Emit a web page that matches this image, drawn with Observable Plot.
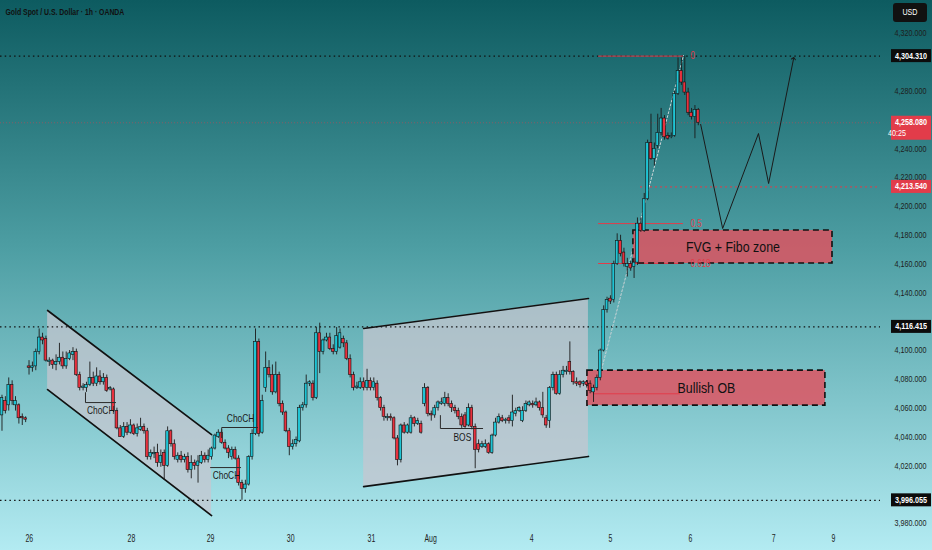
<!DOCTYPE html>
<html><head><meta charset="utf-8">
<script src="https://cdn.jsdelivr.net/npm/d3@7"></script>
<script src="https://cdn.jsdelivr.net/npm/@observablehq/plot@0.6"></script>
<style>
html,body{margin:0;padding:0;}
body{width:932px;height:550px;overflow:hidden;background:linear-gradient(to bottom,#0d5b60 0%,#4d9ea3 45%,#b3ebf2 100%);}
</style></head><body><div id="chart"></div>
<script>
const title = "Gold Spot / U.S. Dollar · 1h · OANDA";
const opens = [4055,4065,4062,4076,4062,4062,4054,4053,4089,4088,4089,4099,4109,4108,4092,4093,4090,4092,4095,4089,4094,4097,4099,4083,4074,4074,4076,4081,4077,4082,4078,4081,4073,4073,4058,4046,4040,4047,4043,4048,4042,4045,4047,4044,4026,4028,4029,4022,4029,4020,4044,4035,4024,4027,4024,4026,4017,4022,4020,4022,4027,4024,4026,4032,4040,4043,4036,4032,4026,4031,4025,4008,4004,4007,4026,4042,4106,4043,4074,4088,4083,4071,4083,4063,4057,4044,4033,4035,4037,4060,4062,4077,4077,4067,4112,4099,4107,4109,4101,4099,4102,4108,4105,4094,4083,4074,4074,4078,4074,4079,4074,4077,4067,4060,4053,4054,4053,4039,4024,4048,4043,4043,4053,4049,4049,4063,4074,4056,4055,4060,4063,4063,4067,4063,4060,4058,4054,4055,4048,4060,4047,4035,4033,4033,4035,4029,4041,4050,4053,4051,4053,4051,4056,4058,4051,4058,4062,4063,4062,4064,4060,4053,4051,4074,4083,4070,4083,4085,4092,4085,4078,4078,4077,4078,4077,4071,4074,4081,4100,4128,4136,4135,4160,4176,4168,4158,4160,4158,4161,4188,4183,4205,4244,4233,4242,4251,4261,4249,4248,4249,4278,4294,4286,4279,4265,4262,4267];
const highs = [4069,4068,4081,4079,4068,4063,4056,4054,4093,4092,4101,4115,4112,4110,4095,4094,4097,4105,4099,4099,4100,4102,4101,4085,4077,4078,4092,4085,4088,4086,4084,4083,4075,4074,4060,4048,4050,4050,4052,4049,4049,4053,4049,4046,4031,4033,4035,4031,4031,4047,4045,4038,4029,4030,4028,4029,4027,4024,4027,4030,4029,4031,4033,4042,4045,4045,4038,4034,4033,4033,4027,4010,4010,4027,4045,4115,4108,4069,4099,4093,4090,4092,4085,4065,4058,4046,4038,4040,4062,4064,4083,4079,4079,4116,4119,4108,4112,4112,4104,4116,4115,4110,4107,4097,4085,4078,4081,4081,4087,4081,4081,4079,4068,4062,4056,4056,4054,4041,4049,4050,4049,4055,4054,4053,4051,4077,4075,4058,4062,4065,4067,4071,4070,4065,4062,4060,4056,4057,4063,4062,4049,4038,4037,4038,4036,4042,4053,4056,4055,4053,4055,4069,4060,4061,4061,4065,4065,4065,4067,4065,4071,4055,4075,4085,4085,4086,4089,4089,4106,4086,4081,4079,4079,4079,4079,4076,4083,4101,4131,4137,4138,4162,4181,4180,4171,4164,4162,4164,4192,4192,4209,4246,4264,4244,4264,4268,4263,4251,4251,4280,4303,4303,4304.31,4282,4268,4270,4268];
const lows = [4044,4056,4058,4062,4058,4049,4048,4050,4083,4085,4086,4097,4104,4092,4089,4087,4086,4090,4087,4087,4093,4093,4082,4072,4072,4071,4075,4075,4075,4076,4076,4071,4072,4057,4045,4040,4039,4041,4042,4041,4040,4044,4042,4024,4024,4025,4019,4019,4010,4019,4033,4024,4022,4022,4022,4015,4011,4017,4008,4021,4022,4022,4024,4031,4039,4035,4031,4025,4024,4024,4006,3996.1,4001,4006,4024,4041,4040,4042,4071,4081,4069,4070,4061,4055,4043,4027,4031,4033,4036,4058,4060,4075,4065,4066,4084,4097,4106,4100,4097,4097,4101,4102,4093,4081,4072,4073,4073,4072,4072,4072,4072,4065,4058,4051,4051,4051,4038,4020,4022,4042,4042,4042,4047,4048,4042,4061,4054,4051,4053,4058,4062,4061,4061,4057,4056,4052,4046,4046,4047,4045,4018,4029,4032,4032,4028,4028,4040,4049,4050,4049,4049,4047,4054,4057,4050,4057,4061,4060,4061,4058,4053,4046,4046,4072,4069,4069,4081,4083,4083,4076,4075,4074,4075,4074,4070,4064,4072,4079,4099,4126,4132,4133,4159,4165,4158,4151,4155,4150,4159,4182,4182,4204,4232,4228,4240,4249,4246,4246,4247,4248,4277,4284,4277,4263,4260,4247,4256];
const closes = [4067,4058,4076,4065,4065,4053,4053,4052,4088,4089,4099,4109,4107,4093,4093,4090,4092,4095,4089,4094,4098,4099,4083,4074,4075,4076,4081,4077,4082,4078,4081,4072,4074,4058,4046,4040,4047,4043,4048,4042,4046,4047,4044,4026,4029,4029,4022,4027,4020,4044,4035,4026,4027,4024,4026,4017,4022,4020,4023,4027,4024,4027,4032,4041,4043,4036,4032,4029,4031,4025,4008,4004,4007,4026,4042,4106,4042,4065,4088,4083,4071,4083,4063,4057,4044,4033,4035,4038,4060,4062,4077,4078,4067,4112,4099,4107,4109,4101,4099,4110,4112,4105,4094,4083,4074,4075,4078,4074,4079,4074,4078,4067,4060,4054,4054,4053,4039,4024,4048,4043,4048,4053,4049,4051,4043,4074,4056,4055,4060,4064,4064,4067,4063,4060,4058,4054,4048,4047,4060,4047,4031,4031,4035,4035,4029,4041,4050,4054,4051,4052,4051,4057,4058,4060,4058,4063,4064,4062,4064,4060,4055,4048,4074,4083,4070,4083,4086,4086,4085,4078,4077,4076,4078,4076,4072,4074,4081,4100,4128,4135,4134,4160,4176,4167,4160,4160,4157,4161,4188,4183,4205,4244,4233,4240,4251,4261,4248,4247,4249,4278,4294,4286,4279,4265,4262,4267,4258.08];

const dayTicks = [8.1, 38.3, 61.7, 85.4, 109.3, 126.8, 156.7, 180, 203.7, 228.3, 246];
const dayLabels = ["26","28","29","30","31","Aug","4","5","6","7","9"];
const priceTicks = d3.range(3980, 4321, 20);

const keyLevels = [4304.31, 4116.415, 3996.055];
const currentPrice = 4258.08;
const countdown = "40:25";
const targetLevel = 4213.54;
const targetStart = 188.9;

const descChannel = [{x: 13.5, lo: 4072.9, hi: 4127.8}, {x: 62, lo: 3985.5, hi: 4041.7}];
const riseChannel = [{x: 107, lo: 4005.6, hi: 4115.3}, {x: 173.5, lo: 4026.5, hi: 4136.1}];

const fibRatios = ["0", "0.5", "0.618"];
const fibPrices = [4304.31, 4188.1, 4160.4];
const fibStart = 176.5, fibEnd = 201.6, fibLabelX = 203.7;
const fibSwing = [{x: 175.6, y: 4071}, {x: 201.6, y: 4304.7}];
const obLine = {x1: 175, x2: 200.7, y: 4070};

const zoneNames = ["FVG + Fibo zone", "Bullish OB"];
const zoneX1 = [186.8, 173.2], zoneX2 = [245.7, 243.6];
const zoneLow = [4160.4, 4061.8], zoneHigh = [4183.3, 4086.1];

const structNames = ["ChoCH", "ChoCH", "ChoCH", "BOS"];
const structPaths = [
  [[24.7, 4070.8], [24.7, 4063.9], [33.6, 4063.9]],
  [[65, 4039.6], [65, 4046.6], [75.6, 4046.6]],
  [[61.7, 4018.8], [70.6, 4018.8]],
  [[129.7, 4054.9], [129.7, 4045.9], [142.2, 4045.9]]
];
const structLabelX = [29.2, 70.6, 66.4, 136.2];
const structLabelY = [4058.4, 4052.8, 4013.3, 4039.6];

const projX = [206.7, 213.2, 223.8, 226.8, 234.2];
const projY = [4256.9, 4184.7, 4250.6, 4215.9, 4302.7];

const tagPrices = [4304.31, 4258.08, 4213.54, 4116.415, 3996.055];

// ---- build tables ----
const candles = opens.map((o, i) => ({i, o, h: highs[i], l: lows[i], c: closes[i]}));
const zones = zoneNames.map((n, k) => ({n, x1: zoneX1[k], x2: zoneX2[k], y1: zoneLow[k], y2: zoneHigh[k]}));
const structSegs = structPaths.flatMap((p, k) => p.map(([x, y]) => ({k, x, y})));
const structLabels = structNames.map((n, k) => ({n, x: structLabelX[k], y: structLabelY[k]}));
const proj = projX.map((x, k) => ({x, y: projY[k]}));
const fibs = fibRatios.map((r, k) => ({r, y: fibPrices[k]}));
// axis labels that sit under a price tag are hidden by it
const visibleTicks = priceTicks.filter(t => !tagPrices.some(p => Math.abs(p - t) < 6.2));
const fmt = d3.format(",.3f");
const FONT = '"Liberation Sans",Arial,sans-serif';
const UP = "#1fc4d4", DOWN = "#e8313e", RED = "#e23c4a";

function priceTags(index, scales, values, dim) {
  const g = d3.create("svg:g").attr("font-family", FONT).attr("data-squeeze", 0.84);
  const x0 = dim.width - dim.marginRight + 11;
  const w = 40;
  g.append("rect").attr("x", x0 + 2).attr("y", 3).attr("width", 34).attr("height", 19).attr("rx", 3).attr("fill", "#111");
  g.append("text").attr("x", x0 + 19).attr("y", 12.5).attr("dy", "0.35em").attr("text-anchor", "middle")
    .attr("fill", "#fff").attr("font-size", 8.5).text("USD");
  tagPrices.forEach((p) => {
    const y = scales.y(p);
    const red = (p === currentPrice || p === targetLevel);
    const two = p === currentPrice;
    g.append("rect").attr("x", x0).attr("y", y - 6.5).attr("width", w).attr("height", two ? 24 : 13)
      .attr("fill", red ? RED : "#0c0c0c");
    g.append("text").attr("x", x0 + w - 4).attr("y", y).attr("dy", "0.35em").attr("text-anchor", "end")
      .attr("fill", "#fff").attr("font-size", 8.6).attr("font-weight", 600).text(fmt(p));
    if (two) g.append("text").attr("x", x0 + 6).attr("y", y + 11).attr("dy", "0.35em")
      .attr("fill", "#fff").attr("font-size", 8.6).text(countdown);
  });
  return g.node();
}

const chart = Plot.plot({
  width: 932, height: 550,
  marginLeft: 0, marginRight: 52, marginTop: 0, marginBottom: 25,
  x: {domain: [-0.44, 259.9]},
  y: {domain: [3978.6, 4342.9]},
  style: {background: "transparent", fontFamily: FONT, color: "#1c1c1c", overflow: "visible"},
  marks: [
    Plot.areaY(descChannel, {x: "x", y1: "lo", y2: "hi", fill: "#c6c7d0", fillOpacity: 0.74}),
    Plot.areaY(riseChannel, {x: "x", y1: "lo", y2: "hi", fill: "#c6c7d0", fillOpacity: 0.74}),
    Plot.line(descChannel, {x: "x", y: "hi", stroke: "#111", strokeWidth: 1.7}),
    Plot.line(descChannel, {x: "x", y: "lo", stroke: "#111", strokeWidth: 1.7}),
    Plot.line(riseChannel, {x: "x", y: "hi", stroke: "#111", strokeWidth: 1.7}),
    Plot.line(riseChannel, {x: "x", y: "lo", stroke: "#111", strokeWidth: 1.7}),
    Plot.ruleY(keyLevels, {stroke: "#111", strokeWidth: 1.3, strokeDasharray: "1.5,3.2"}),
    Plot.ruleY([currentPrice], {stroke: RED, strokeWidth: 0.8, strokeDasharray: "1,2", strokeOpacity: 0.6}),
    Plot.ruleY([targetLevel], {x1: targetStart, x2: 259.9, stroke: RED, strokeWidth: 1, strokeDasharray: "2,3"}),
    Plot.line(fibSwing, {x: "x", y: "y", stroke: "#c9d3d6", strokeWidth: 1, strokeDasharray: "2,2"}),
    Plot.ruleY(fibs, {y: "y", x1: fibStart, x2: fibEnd, stroke: RED, strokeWidth: 1}),
    Plot.rect(zones, {x1: "x1", x2: "x2", y1: "y1", y2: "y2", fill: "#e2505e", fillOpacity: 0.82,
      stroke: "#111", strokeWidth: 1.6, strokeDasharray: "6,4"}),
    Plot.ruleY([obLine], {y: "y", x1: "x1", x2: "x2", stroke: RED, strokeWidth: 1}),
    Plot.text(fibs, {x: fibLabelX, y: "y", text: "r", fill: RED, fontSize: 10, textAnchor: "start"}),
    Plot.text(zones, {x: d => (d.x1 + d.x2) / 2, y: d => (d.y1 + d.y2) / 2, text: "n", fill: "#111", fontSize: 15.5}),
    Plot.ruleX(candles, {x: "i", y1: "l", y2: "h", stroke: "#1a1a1a", strokeWidth: 0.9}),
    Plot.rect(candles, {x1: d => d.i - 0.4, x2: d => d.i + 0.4, y1: "o", y2: "c",
      fill: d => d.c >= d.o ? UP : DOWN, stroke: "#111", strokeWidth: 0.6}),
    Plot.line(structSegs, {x: "x", y: "y", z: "k", stroke: "#2a2a2a", strokeWidth: 1}),
    Plot.text(structLabels, {x: "x", y: "y", text: "n", fill: "#1a1a1a", fontSize: 10.5}),
    Plot.line(proj, {x: "x", y: "y", stroke: "#1a1a1a", strokeWidth: 1, markerEnd: "arrow"}),
    Plot.axisX(dayTicks, {anchor: "bottom", tickSize: 0, tickPadding: 9, fontSize: 10.5, fill: "#1e1e1e",
      tickFormat: d => dayLabels[dayTicks.indexOf(d)], label: null}),
    Plot.axisY(visibleTicks, {anchor: "right", tickSize: 0, tickPadding: 46, fontSize: 8.6, fill: "#1e1e1e",
      textAnchor: "end", tickFormat: fmt, label: null}),
    Plot.text([title], {frameAnchor: "top-left", dx: 5, dy: 8, fontSize: 8.6, fontWeight: 600, fill: "#111", textAnchor: "start"}),
    priceTags
  ]
});
document.getElementById("chart").appendChild(chart);
// the reference renders its texts horizontally condensed
const squeezeFor = t => {
  const g = t.closest("g");
  const own = t.closest("[data-squeeze]");
  if (own) return +own.getAttribute("data-squeeze");
  const label = g ? g.getAttribute("aria-label") : "";
  if (label === "x-axis tick label") return 0.66;
  if (label === "y-axis tick label") return 0.84;
  return 0.8;
};
chart.querySelectorAll("text").forEach(t => {
  const len = t.getComputedTextLength();
  if (len > 0) {
    t.setAttribute("textLength", (len * squeezeFor(t)).toFixed(2));
    t.setAttribute("lengthAdjust", "spacingAndGlyphs");
  }
});
</script></body></html>
